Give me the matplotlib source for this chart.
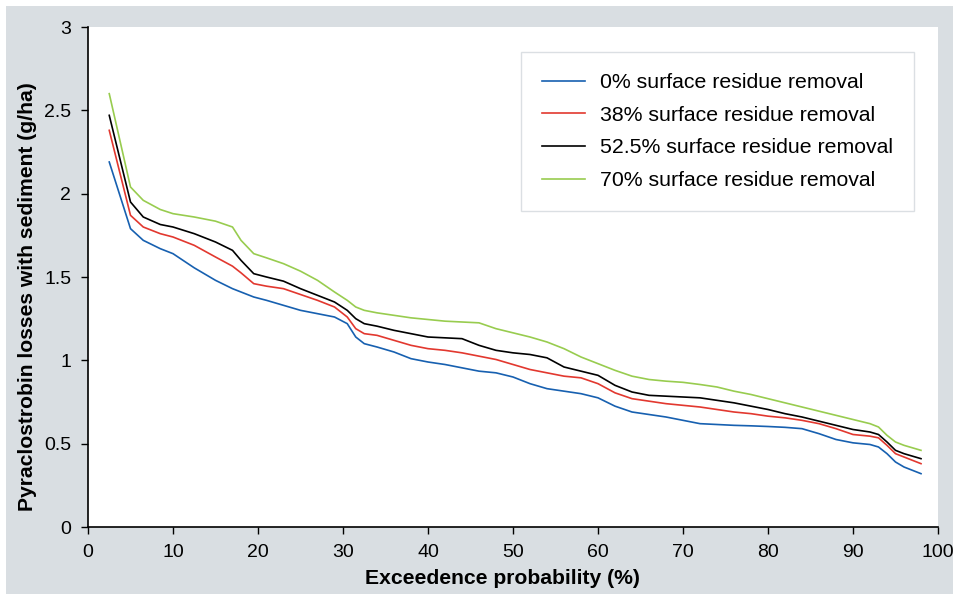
import matplotlib.pyplot as plt
from matplotlib.patches import Rectangle

plt.rcParams['font.family'] = ['Liberation Sans', 'DejaVu Sans']

# exceedence probability (%)
prob = [2.5, 5, 6.5, 8.5, 10, 12.5, 15, 17, 18, 19.5, 21, 23, 25, 27, 29, 30.5, 31.5, 32.5,
        34, 36, 38, 40, 42, 44, 46, 48, 50, 52, 54, 56, 58, 60, 62, 64, 66, 68, 70, 72,
        74, 76, 78, 80, 82, 84, 86, 88, 90, 92, 93, 94, 95, 96, 98]

# pyraclostrobin losses (g/ha)
removal_0 = [2.19, 1.79, 1.72, 1.67, 1.64, 1.555, 1.48, 1.43, 1.41, 1.38, 1.36, 1.33, 1.30, 1.28,
             1.26, 1.22, 1.14, 1.10, 1.08, 1.05, 1.01, 0.99, 0.975, 0.955, 0.935, 0.925, 0.90,
             0.86, 0.83, 0.815, 0.80, 0.775, 0.725, 0.69, 0.675, 0.66, 0.64, 0.62, 0.615, 0.61,
             0.607, 0.603, 0.598, 0.59, 0.56, 0.525, 0.505, 0.495, 0.48, 0.44, 0.39, 0.36, 0.32]
removal_38 = [2.38, 1.87, 1.80, 1.76, 1.74, 1.69, 1.62, 1.565, 1.525, 1.46, 1.445, 1.43, 1.395,
              1.36, 1.32, 1.26, 1.19, 1.16, 1.15, 1.12, 1.09, 1.07, 1.06, 1.045, 1.025, 1.005,
              0.975, 0.945, 0.925, 0.905, 0.895, 0.86, 0.805, 0.77, 0.755, 0.74, 0.73, 0.72,
              0.705, 0.69, 0.68, 0.665, 0.655, 0.64, 0.62, 0.59, 0.555, 0.545, 0.535, 0.49,
              0.44, 0.42, 0.38]
removal_525 = [2.47, 1.95, 1.86, 1.815, 1.80, 1.76, 1.71, 1.66, 1.60, 1.52, 1.50, 1.475, 1.43,
               1.39, 1.35, 1.30, 1.25, 1.22, 1.205, 1.18, 1.16, 1.14, 1.135, 1.13, 1.09, 1.06,
               1.045, 1.035, 1.015, 0.96, 0.935, 0.91, 0.85, 0.81, 0.79, 0.785, 0.78, 0.775,
               0.76, 0.745, 0.725, 0.705, 0.68, 0.66, 0.635, 0.61, 0.585, 0.57, 0.555, 0.51,
               0.46, 0.44, 0.41]
removal_70 = [2.60, 2.04, 1.96, 1.905, 1.88, 1.86, 1.835, 1.80, 1.72, 1.64, 1.615, 1.58, 1.535,
              1.48, 1.41, 1.36, 1.32, 1.30, 1.285, 1.27, 1.255, 1.245, 1.235, 1.23, 1.225, 1.19,
              1.165, 1.14, 1.11, 1.07, 1.02, 0.98, 0.94, 0.905, 0.885, 0.875, 0.868, 0.855,
              0.84, 0.815, 0.795, 0.77, 0.745, 0.72, 0.695, 0.67, 0.645, 0.62, 0.60, 0.55,
              0.51, 0.49, 0.46]

labels = ['0% surface residue removal', '38% surface residue removal',
          '52.5% surface residue removal', '70% surface residue removal']
colors = ['#1760b0', '#e2382f', '#000000', '#98cc4f']

fig = plt.figure(figsize=(9.54, 5.95), dpi=100, facecolor='white')
fig.patches.append(Rectangle((6 / 954, 1 / 595), 1 - 6 / 954, 1 - 7 / 595,
                             transform=fig.transFigure, facecolor='#d9dee2',
                             edgecolor='none', zorder=-10))
ax = fig.add_axes([88 / 954, 1 - 527 / 595, 850 / 954, 500 / 595])
ax.set_facecolor('white')

for ys, lab, c in zip([removal_0, removal_38, removal_525, removal_70], labels, colors):
    ax.plot(prob, ys, color=c, lw=1.2, label=lab)

ax.set_xlim(0, 100)
ax.set_ylim(0, 3)
ax.set_xticks(range(0, 101, 10))
ax.set_yticks([0, 0.5, 1, 1.5, 2, 2.5, 3])
ax.set_yticklabels(['0', '0.5', '1', '1.5', '2', '2.5', '3'])
ax.tick_params(labelsize=14, length=5, width=1, direction='out')
ax.tick_params(axis='y', pad=7)
ax.tick_params(axis='x', pad=7)
for s in ['top', 'right']:
    ax.spines[s].set_visible(False)
for s in ['left', 'bottom']:
    ax.spines[s].set_linewidth(1.2)

ax.set_xlabel('Exceedence probability (%)', fontsize=15.2, fontweight='bold')
ax.set_ylabel('Pyraclostrobin losses with sediment (g/ha)', fontsize=15.2,
              fontweight='bold')
ax.xaxis.set_label_coords(0.487, -0.084)
ax.yaxis.set_label_coords(-0.060, 0.46)

leg = ax.legend(loc='upper left', bbox_to_anchor=(521 / 954, 1 - 52 / 595),
                bbox_transform=fig.transFigure, borderaxespad=0, fontsize=15.3,
                frameon=True, fancybox=False, handlelength=2.0, handletextpad=0.7,
                labelspacing=0.64, borderpad=1.0)
leg.get_frame().set_edgecolor('#d3d8dd')
leg.get_frame().set_linewidth(1)
for h in leg.get_lines():
    h.set_linewidth(1.2)

fig.savefig('out.png', dpi=100, facecolor='white')
